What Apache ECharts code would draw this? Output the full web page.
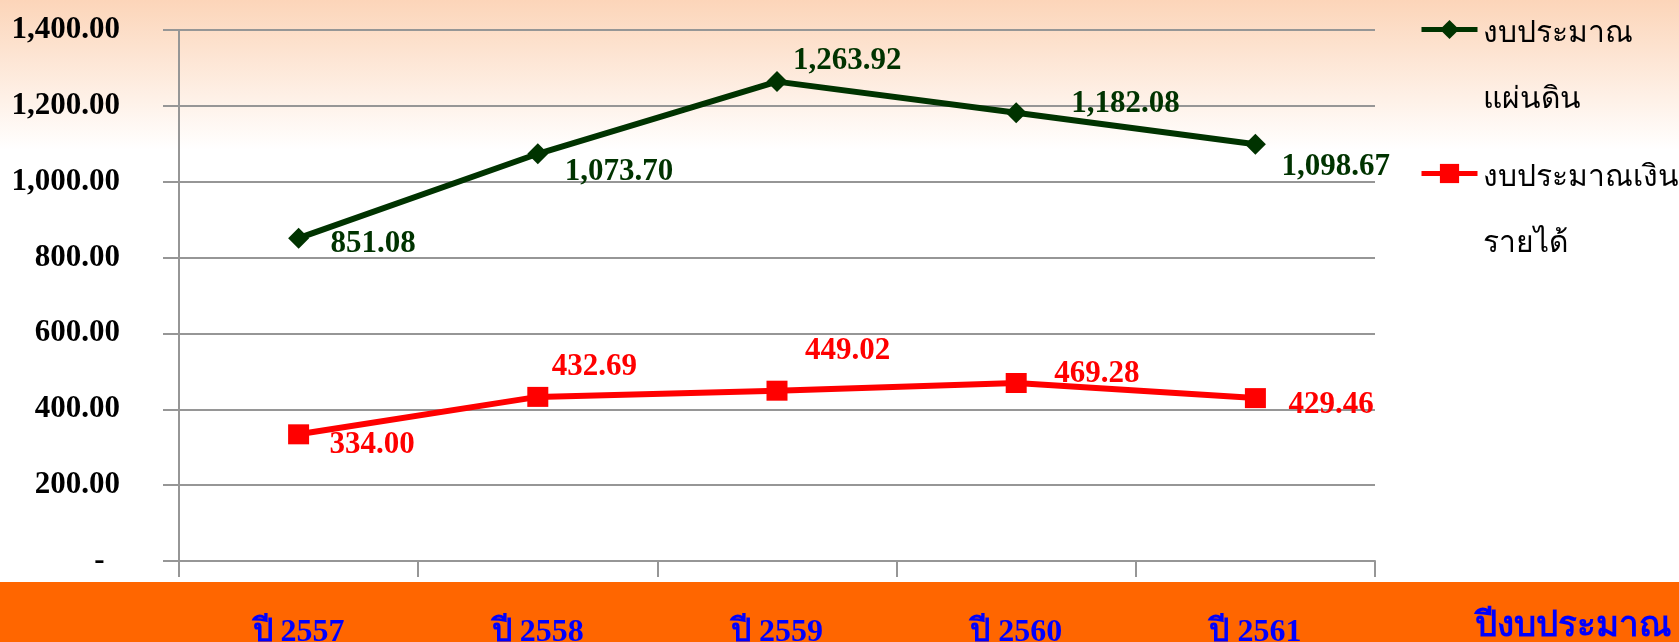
<!DOCTYPE html>
<html>
<head>
<meta charset="utf-8">
<script src="https://cdn.jsdelivr.net/npm/echarts@6/dist/echarts.min.js"></script>
<style>
  html, body { margin: 0; padding: 0; }
  #chart {
    width: 1679px;
    height: 642px;
    /* peach fade at the top, orange band under the axis */
    background: linear-gradient(to bottom, #fcd5b9 0px, #ffffff 150px, #ffffff 582px, #ff6600 582px);
  }
</style>
</head>
<body>
<div id="chart"></div>
<script>
// ข้อมูล
const years = ['ปี 2557', 'ปี 2558', 'ปี 2559', 'ปี 2560', 'ปี 2561']
const landBudget = [851.08, 1073.70, 1263.92, 1182.08, 1098.67]
const incomeBudget = [334.00, 432.69, 449.02, 469.28, 429.46]
const yMin = 0
const yMax = 1400
const yStep = 200

// label placement next to each point (px from the point: left edge, middle)
const landLabelOffset = [[32, 6], [27, 18], [16, -21], [55, -9], [26, 23]]
const incomeLabelOffset = [[31, 11], [14, -30], [28, -40], [38, -9], [33, 7]]

const serif = "'Liberation Serif', 'Times New Roman', serif"
const gridGrey = '#969696'

const fmt = v => v.toFixed(2).replace(/\B(?=(\d{3})+(?!\d))/g, ',')

const chart = echarts.init(document.getElementById('chart'))

const labelBase = {
  show: true,
  position: 'inside',
  align: 'left',
  verticalAlign: 'middle',
  fontFamily: serif,
  fontWeight: 'bold',
  fontSize: 31,
  formatter: p => fmt(p.value)
}

const option = {
  animation: false,
  grid: {
    left: 179,
    right: 304,
    top: 30,
    bottom: 81,
    outerBoundsMode: 'none'
  },
  legend: {
    orient: 'vertical',
    left: 1419,
    top: -74,
    padding: 0,
    itemGap: -63,
    itemWidth: 56,
    itemHeight: 24,
    lineStyle: { width: 5 },
    // spacer line on top so the name starts level with the icon
    formatter: name => '{gap| }\n' + name,
    textStyle: {
      color: '#000',
      fontSize: 30,
      fontFamily: serif,
      lineHeight: 66,
      rich: {
        gap: { fontSize: 10, lineHeight: 75 }
      }
    },
    data: ['งบประมาณ\nแผ่นดิน', 'งบประมาณเงิน\nรายได้']
  },
  xAxis: {
    type: 'category',
    data: years,
    boundaryGap: true,
    name: 'ปีงบประมาณ',
    nameLocation: 'end',
    nameGap: 100,
    nameTextStyle: {
      color: '#0000ff',
      fontSize: 35,
      fontWeight: 'bold',
      fontFamily: serif,
      align: 'left',
      verticalAlign: 'top',
      lineHeight: 132
    },
    axisLine: { lineStyle: { color: gridGrey, width: 2 } },
    axisTick: { show: true, length: 16, interval: 0, lineStyle: { color: gridGrey, width: 2 } },
    axisLabel: {
      color: '#0000ff',
      fontSize: 32,
      fontWeight: 'bold',
      fontFamily: serif,
      verticalAlign: 'middle',
      margin: 72,
      interval: 0
    }
  },
  yAxis: {
    type: 'value',
    min: yMin,
    max: yMax,
    interval: yStep,
    axisLine: { show: true, lineStyle: { color: gridGrey, width: 2 } },
    axisTick: { show: true, length: 16, lineStyle: { color: gridGrey, width: 2 } },
    splitLine: { lineStyle: { color: gridGrey, width: 2 } },
    axisLabel: {
      color: '#000',
      fontSize: 31,
      fontWeight: 'bold',
      fontFamily: serif,
      margin: 59,
      formatter: v => (v === 0 ? '-  ' : fmt(v))
    }
  },
  series: [
    {
      name: 'งบประมาณ\nแผ่นดิน',
      type: 'line',
      symbol: 'diamond',
      symbolSize: 21,
      color: '#003300',
      lineStyle: { width: 6, color: '#003300' },
      itemStyle: { color: '#003300' },
      label: { ...labelBase, color: '#003300' },
      data: landBudget.map((v, i) => ({ value: v, label: { offset: landLabelOffset[i] } }))
    },
    {
      name: 'งบประมาณเงิน\nรายได้',
      type: 'line',
      symbol: 'rect',
      symbolSize: [21, 20],
      color: '#ff0000',
      lineStyle: { width: 6, color: '#ff0000' },
      itemStyle: { color: '#ff0000' },
      label: { ...labelBase, color: '#ff0000' },
      data: incomeBudget.map((v, i) => ({ value: v, label: { offset: incomeLabelOffset[i] } }))
    }
  ]
}

chart.setOption(option)
</script>
</body>
</html>
